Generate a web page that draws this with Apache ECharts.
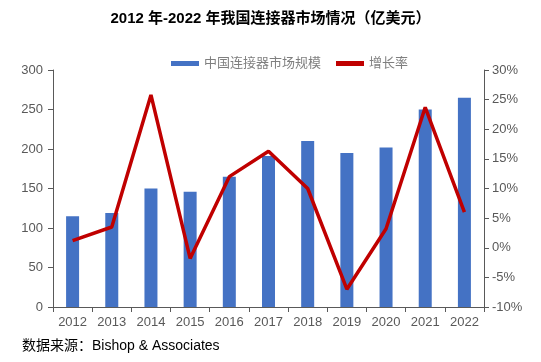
<!DOCTYPE html>
<html><head><meta charset="utf-8">
<script src="https://cdn.jsdelivr.net/npm/echarts@6/dist/echarts.min.js"></script>
<style>html,body{margin:0;padding:0;background:#fff}#c{width:541px;height:362px}</style>
</head><body><div id="c"></div>
<script>
var years = ['2012','2013','2014','2015','2016','2017','2018','2019','2020','2021','2022'];
var marketSize = [115, 119, 150, 146, 165, 191, 210, 195, 202, 250, 265];
var growthRate = [1.2, 3.5, 25.8, -1.8, 12.0, 16.3, 10.0, -7.0, 3.2, 23.7, 6.0];
var FONT = '"Liberation Sans", Arial, "Noto Sans CJK SC", sans-serif';
var chart = echarts.init(document.getElementById('c'));
chart.setOption({
  animation: false,
  textStyle: {fontFamily: FONT},
  title: {
    text: '2012 年-2022 年我国连接器市场情况（亿美元）',
    left: 'center', top: 6,
    textStyle: {fontSize: 15, fontWeight: 'bold', color: '#000', fontFamily: FONT}
  },
  legend: {
    top: 52, left: 166,
    itemWidth: 28, itemHeight: 5, itemGap: 15,
    textStyle: {color: '#7f7f7f', fontSize: 13, fontFamily: FONT},
    data: [
      {name: '中国连接器市场规模', icon: 'rect'},
      {name: '增长率', icon: 'rect', itemStyle: {color: '#C00000'}}
    ]
  },
  grid: {left: 53, right: 57, top: 70, bottom: 55, containLabel: false},
  xAxis: {
    type: 'category', data: years,
    axisLine: {lineStyle: {color: '#595959'}},
    axisTick: {show: true, alignWithLabel: false, lineStyle: {color: '#595959'}},
    axisLabel: {color: '#595959', fontSize: 13, margin: 9}
  },
  yAxis: [
    {type: 'value', min: 0, max: 300, interval: 50,
     axisLine: {show: true, lineStyle: {color: '#595959'}},
     axisTick: {show: true, lineStyle: {color: '#595959'}},
     axisLabel: {color: '#595959', fontSize: 13, margin: 10},
     splitLine: {show: false}},
    {type: 'value', min: -10, max: 30, interval: 5,
     axisLine: {show: true, lineStyle: {color: '#595959'}},
     axisTick: {show: true, lineStyle: {color: '#595959'}},
     axisLabel: {color: '#595959', fontSize: 13, margin: 8, formatter: '{value}%'},
     splitLine: {show: false}}
  ],
  series: [
    {name: '中国连接器市场规模', type: 'bar', data: marketSize, barWidth: 13,
     itemStyle: {color: '#4472C4'}},
    {name: '增长率', type: 'line', yAxisIndex: 1, data: growthRate,
     symbol: 'none', lineStyle: {color: '#C00000', width: 3.5}, itemStyle: {color: '#C00000'}}
  ],
  graphic: [{
    type: 'text', left: 22, top: 339,
    style: {text: '数据来源：Bishop & Associates', fill: '#000', font: '14px ' + FONT}
  }]
});
</script></body></html>
